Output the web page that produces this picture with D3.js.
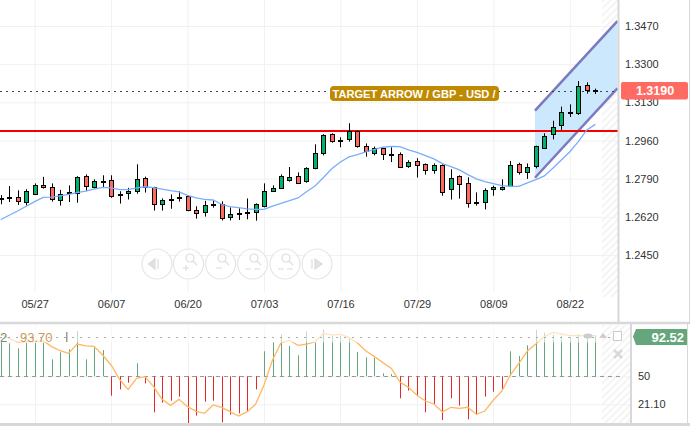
<!DOCTYPE html>
<html>
<head>
<meta charset="utf-8">
<script src="https://d3js.org/d3.v7.min.js"></script>
<style>
body {margin: 0; background: #fff;}
svg {display: block; font-family: "Liberation Sans", Arial, sans-serif;}
.axis .domain {display: none;}
.axis text {fill: #333; font-size: 11px;}
.axis line {stroke: #f1f1f1;}
</style>
</head>
<body>
<div id="vis"></div>
<script>
const FRAME_WIDTH = 695;
const FRAME_HEIGHT = 426;

// price pane
const OPENS = [1.2702,1.2707,1.2707,1.2685,1.2720,1.2760,1.2751,1.2692,1.2729,1.2726,1.2801,1.2754,1.2780,1.2783,1.2720,1.2725,1.2734,1.2792,1.2751,1.2676,1.2698,1.2707,1.2711,1.2649,1.2640,1.2677,1.2676,1.2618,1.2636,1.2640,1.2640,1.2665,1.2732,1.2749,1.2781,1.2801,1.2777,1.2836,1.2903,1.2988,1.2961,1.2965,1.3002,1.2934,1.2903,1.2925,1.2900,1.2898,1.2844,1.2867,1.2854,1.2827,1.2849,1.2743,1.2801,1.2769,1.2685,1.2685,1.2743,1.2747,1.2757,1.2854,1.2818,1.2845,1.2925,1.2988,1.3028,1.3081,1.3080,1.3206,1.3184];
const HIGHS = [1.2717,1.2757,1.2738,1.2743,1.2769,1.2798,1.2769,1.2740,1.2760,1.2801,1.2809,1.2787,1.2805,1.2805,1.2734,1.2749,1.2854,1.2799,1.2754,1.2702,1.2720,1.2734,1.2716,1.2667,1.2691,1.2692,1.2689,1.2662,1.2658,1.2702,1.2680,1.2769,1.2760,1.2809,1.2842,1.2818,1.2841,1.2943,1.2988,1.2992,1.2974,1.3037,1.3005,1.2947,1.2933,1.2930,1.2930,1.2907,1.2872,1.2881,1.2858,1.2858,1.2854,1.2832,1.2805,1.2796,1.2729,1.2747,1.2759,1.2787,1.2869,1.2861,1.2858,1.2937,1.2992,1.3048,1.3111,1.3121,1.3225,1.3219,1.3191];
const LOWS = [1.2676,1.2686,1.2673,1.2670,1.2717,1.2746,1.2688,1.2670,1.2686,1.2683,1.2734,1.2746,1.2753,1.2705,1.2679,1.2697,1.2723,1.2728,1.2648,1.2648,1.2656,1.2688,1.2645,1.2612,1.2621,1.2661,1.2604,1.2604,1.2606,1.2609,1.2603,1.2662,1.2732,1.2744,1.2777,1.2768,1.2772,1.2832,1.2894,1.2950,1.2930,1.2955,1.2928,1.2888,1.2894,1.2873,1.2864,1.2838,1.2838,1.2795,1.2808,1.2812,1.2714,1.2697,1.2701,1.2661,1.2670,1.2653,1.2714,1.2737,1.2753,1.2808,1.2789,1.2836,1.2922,1.2965,1.3007,1.3065,1.3074,1.3169,1.3167];
const CLOSES = [1.2697,1.2702,1.2689,1.2734,1.2760,1.2750,1.2697,1.2720,1.2725,1.2796,1.2756,1.2780,1.2777,1.2710,1.2716,1.2734,1.2787,1.2751,1.2676,1.2694,1.2695,1.2702,1.2649,1.2636,1.2671,1.2673,1.2612,1.2631,1.2630,1.2634,1.2676,1.2734,1.2747,1.2801,1.2796,1.2772,1.2836,1.2903,1.2983,1.2955,1.2956,1.3001,1.2934,1.2912,1.2925,1.2898,1.2897,1.2841,1.2863,1.2849,1.2827,1.2849,1.2729,1.2792,1.2765,1.2680,1.2682,1.2738,1.2751,1.2754,1.2849,1.2818,1.2841,1.2934,1.2980,1.3019,1.3086,1.3086,1.3201,1.3182,1.3181];
const AVERAGE = [1.2607,1.2627,1.2646,1.2667,1.2688,1.2707,1.2708,1.2713,1.2720,1.2728,1.2735,1.2743,1.2751,1.2749,1.2741,1.2741,1.2749,1.2754,1.2750,1.2743,1.2737,1.2731,1.2716,1.2704,1.2698,1.2695,1.2676,1.2665,1.2661,1.2655,1.2653,1.2653,1.2668,1.2680,1.2692,1.2704,1.2732,1.2757,1.2795,1.2835,1.2864,1.2887,1.2897,1.2909,1.2921,1.2930,1.2934,1.2933,1.2918,1.2907,1.2893,1.2878,1.2857,1.2844,1.2829,1.2808,1.2789,1.2777,1.2768,1.2759,1.2756,1.2756,1.2771,1.2786,1.2802,1.2836,1.2873,1.2910,1.2955,1.3007,1.3032];

const PRICE_TICKS = [1.3470, 1.3300, 1.3130, 1.2960, 1.2790, 1.2620, 1.2450];
const DATE_LABELS = ["05/27", "06/07", "06/20", "07/03", "07/16", "07/29", "08/09", "08/22"];
const DATE_INDEX = [4, 13, 22, 31, 40, 49, 58, 67];

// annotations
const RESISTANCE = 1.3002;
const CHANNEL_INDEX = [62.9, 72.6];
const CHANNEL_UPPER = [1.3093, 1.3492];
const CHANNEL_LOWER = [1.2794, 1.3192];

// oscillator pane
const OSC_BARS = [85.7,84.0,78.9,84.7,84.7,84.7,67.5,74.7,77.8,96.7,67.5,79.5,77.1,30.0,36.5,43.4,63.4,42.7,12.8,22.8,24.8,29.0,1.5,9.4,23.8,24.8,2.5,10.4,11.8,13.5,36.5,75.8,85.4,93.3,81.3,71.6,96.4,85.1,98.5,91.6,91.6,90.2,75.1,69.6,68.9,53.1,52.4,27.3,35.2,30.7,12.8,20.7,4.9,27.3,19.7,5.6,10.1,29.0,34.1,36.9,75.8,71.0,82.0,97.8,95.0,93.0,92.3,90.9,93.7,93.0,92.3];
const OSC_LINE = [93.7,89.2,85.1,85.7,85.7,86.8,80.6,76.4,73.7,83.3,81.3,80.9,72.0,61.7,46.9,36.5,47.9,49.6,39.3,26.2,20.0,26.2,18.7,13.8,11.8,20.4,18.0,13.5,9.0,13.2,21.1,41.0,66.8,84.7,87.1,82.0,83.3,85.4,94.3,92.6,93.3,90.2,84.4,76.1,70.3,64.1,58.2,44.1,38.6,30.4,24.5,21.4,13.1,18.0,16.9,18.0,10.7,14.2,25.5,34.8,51.3,63.4,76.1,83.3,90.9,95.4,93.7,91.9,91.9,91.9,91.9];
const OSC_TICKS = [50, 21.1];
const OSC_TOP = 91;

const GREEN = "#00b36b";
const RED = "#ff6a5e";
const INDEX = OPENS.map((d, i) => i);

const FRAME = d3.select("#vis")
	.append("svg")
		.attr("width", FRAME_WIDTH)
		.attr("height", FRAME_HEIGHT);

const X_SCALE = d3.scaleLinear().domain([0, 70]).range([0.67, 595.3]);
const Y_SCALE = d3.scaleLinear().domain([1.3470, 1.2450]).range([26, 255]);
const OSC_SCALE = d3.scaleLinear().domain([50, 21.1]).range([376.3, 404.3]);
const crisp = (v) => Math.round(v) + 0.5;

// hatch for the empty area right of the last candle
const HATCH = FRAME.append("defs").append("pattern")
	.attr("id", "hatch")
	.attr("width", 5)
	.attr("height", 5)
	.attr("patternUnits", "userSpaceOnUse")
	.attr("patternTransform", "rotate(-45)");
HATCH.append("line")
	.attr("x1", 0).attr("x2", 5).attr("y1", 2).attr("y2", 2)
	.attr("stroke", "#f0f0f0")
	.attr("stroke-width", 1.5);

FRAME.append("rect").attr("x", 602).attr("y", 0).attr("width", 16).attr("height", 297).attr("fill", "url(#hatch)");
FRAME.append("rect").attr("x", 602).attr("y", 325).attr("width", 28).attr("height", 98).attr("fill", "url(#hatch)");

// axes and grid
FRAME.append("g")
	.attr("class", "axis")
	.attr("transform", "translate(618,0)")
	.call(d3.axisRight(Y_SCALE).tickValues(PRICE_TICKS).tickSize(-618).tickPadding(7).tickFormat(d3.format(".4f")));

const DATE_AXIS = d3.axisBottom(X_SCALE)
	.tickValues(DATE_INDEX)
	.tickSize(-292)
	.tickPadding(8)
	.tickFormat((d, i) => DATE_LABELS[i]);
FRAME.append("g")
	.attr("class", "axis")
	.attr("transform", "translate(0,292)")
	.call(DATE_AXIS);

FRAME.append("g")
	.selectAll("line")
	.data(DATE_INDEX)
	.enter()
	.append("line")
		.attr("x1", (d) => crisp(X_SCALE(d)))
		.attr("x2", (d) => crisp(X_SCALE(d)))
		.attr("y1", 324)
		.attr("y2", 423)
		.attr("stroke", "#f1f1f1");

// channel
const CHANNEL_POINTS = [
	[CHANNEL_INDEX[0], CHANNEL_UPPER[0]],
	[CHANNEL_INDEX[1], CHANNEL_UPPER[1]],
	[CHANNEL_INDEX[1], CHANNEL_LOWER[1]],
	[CHANNEL_INDEX[0], CHANNEL_LOWER[0]]
];
FRAME.append("polygon")
	.attr("points", CHANNEL_POINTS.map((d) => X_SCALE(d[0]) + "," + Y_SCALE(d[1])).join(" "))
	.attr("fill", "#cbe8fd");
[CHANNEL_UPPER, CHANNEL_LOWER].forEach((band) => {
	FRAME.append("line")
		.attr("x1", X_SCALE(CHANNEL_INDEX[0]))
		.attr("x2", X_SCALE(CHANNEL_INDEX[1]))
		.attr("y1", Y_SCALE(band[0]))
		.attr("y2", Y_SCALE(band[1]))
		.attr("stroke", "#7c7abf")
		.attr("stroke-width", 2.5);
});

// last price line and resistance
FRAME.append("line")
	.attr("x1", 0)
	.attr("x2", 618)
	.attr("y1", crisp(Y_SCALE(CLOSES[70])))
	.attr("y2", crisp(Y_SCALE(CLOSES[70])))
	.attr("stroke", "#444")
	.attr("stroke-dasharray", "2,4");
FRAME.append("line")
	.attr("x1", 0)
	.attr("x2", 618)
	.attr("y1", Y_SCALE(RESISTANCE))
	.attr("y2", Y_SCALE(RESISTANCE))
	.attr("stroke", "#f40000")
	.attr("stroke-width", 2);

// candles
FRAME.append("g")
	.selectAll("line")
	.data(INDEX)
	.enter()
	.append("line")
		.attr("x1", (i) => crisp(X_SCALE(i)))
		.attr("x2", (i) => crisp(X_SCALE(i)))
		.attr("y1", (i) => Y_SCALE(HIGHS[i]))
		.attr("y2", (i) => Y_SCALE(LOWS[i]))
		.attr("stroke", "#000");

const candleFill = (i) => {
	if (Math.abs(CLOSES[i] - OPENS[i]) <= 0.0005) {return "#000";}
	return CLOSES[i] > OPENS[i] ? GREEN : RED;
};

FRAME.append("g")
	.selectAll("rect")
	.data(INDEX)
	.enter()
	.append("rect")
		.attr("x", (i) => crisp(X_SCALE(i)) - 2)
		.attr("width", 4)
		.attr("y", (i) => crisp(Y_SCALE(Math.max(OPENS[i], CLOSES[i]))))
		.attr("height", (i) => Math.max(1, Math.round(Y_SCALE(Math.min(OPENS[i], CLOSES[i])) - Y_SCALE(Math.max(OPENS[i], CLOSES[i])))))
		.attr("fill", candleFill)
		.attr("stroke", "#000");

// moving average
FRAME.append("path")
	.datum(AVERAGE)
	.attr("d", d3.line().x((d, i) => X_SCALE(i)).y((d) => Y_SCALE(d)))
	.attr("fill", "none")
	.attr("stroke", "#78aefc")
	.attr("stroke-width", 1.3);

// target label
FRAME.append("rect")
	.attr("x", 330).attr("y", 86).attr("width", 169).attr("height", 15)
	.attr("rx", 4)
	.attr("fill", "#bf8a00");
FRAME.append("text")
	.attr("x", 332.5).attr("y", 97.5)
	.attr("font-size", "11.5px")
	.attr("font-weight", "bold")
	.attr("fill", "#fff")
	.attr("textLength", 163)
	.attr("lengthAdjust", "spacingAndGlyphs")
	.text("TARGET ARROW / GBP - USD /");

// oscillator pane
FRAME.append("g")
	.attr("class", "axis")
	.attr("transform", "translate(631,0)")
	.call(d3.axisRight(OSC_SCALE).tickValues(OSC_TICKS).tickSize(-631).tickPadding(7).tickFormat((d) => d === 50 ? "50" : "21.10"));

FRAME.append("line")
	.attr("x1", 0).attr("x2", 621)
	.attr("y1", crisp(OSC_SCALE(50))).attr("y2", crisp(OSC_SCALE(50)))
	.attr("stroke", "#999")
	.attr("stroke-dasharray", "4,4");

FRAME.append("g")
	.selectAll("line")
	.data(OSC_BARS)
	.enter()
	.append("line")
		.attr("x1", (d, i) => crisp(X_SCALE(i)))
		.attr("x2", (d, i) => crisp(X_SCALE(i)))
		.attr("y1", OSC_SCALE(50))
		.attr("y2", (d) => OSC_SCALE(d))
		.attr("stroke", (d) => d >= 50 ? "#65a57c" : "#e2282d")
		.attr("stroke-width", 1);

FRAME.append("path")
	.datum(OSC_LINE)
	.attr("d", d3.line().x((d, i) => X_SCALE(i)).y((d) => OSC_SCALE(d)))
	.attr("fill", "none")
	.attr("stroke", "#ffb861")
	.attr("stroke-width", 1.3);

// white wash behind the pane legend
FRAME.append("rect")
	.attr("x", 0).attr("y", 324).attr("width", 600).attr("height", 18.5)
	.attr("fill", "#fff")
	.attr("opacity", 0.6);

FRAME.append("line")
	.attr("x1", 0).attr("x2", 621)
	.attr("y1", crisp(OSC_SCALE(OSC_TOP))).attr("y2", crisp(OSC_SCALE(OSC_TOP)))
	.attr("stroke", "#aaa")
	.attr("stroke-dasharray", "2,6");

FRAME.append("text").attr("x", 0).attr("y", 342).attr("font-size", "13px").attr("fill", "#6f8f7c").text("2");
FRAME.append("text").attr("x", 20).attr("y", 342).attr("font-size", "13px").attr("fill", "#c99b5e").text("93.70");
FRAME.append("rect").attr("x", 66).attr("y", 332).attr("width", 1.5).attr("height", 10).attr("fill", "#999");

// pane controls in the oscillator corner
FRAME.append("ellipse").attr("cx", 588).attr("cy", 336).attr("rx", 4.5).attr("ry", 2.5).attr("fill", "#ccc");
FRAME.append("path").attr("d", "M599,338 L603,333 L607,338 Z").attr("fill", "#ccc");
FRAME.append("rect").attr("x", 613.5).attr("y", 331.5).attr("width", 8).attr("height", 9).attr("fill", "#fff").attr("stroke", "#ccc");
FRAME.append("path").attr("d", "M614,350 L622,358 M622,350 L614,358").attr("stroke", "#d9d9d9").attr("stroke-width", 2.5);

// borders
const BORDER = "#d8d8d8";
[[618.5, 0, 618.5, 323, 2], [631, 323, 631, 424, 2], [0, 323, 690, 323, 2.5], [0, 424.5, 690, 424.5, 3], [689.5, 0, 689.5, 323, 1], [687.5, 323, 687.5, 424, 1]].forEach((b) => {
	FRAME.append("line")
		.attr("x1", b[0]).attr("y1", b[1])
		.attr("x2", b[2]).attr("y2", b[3])
		.attr("stroke", BORDER)
		.attr("stroke-width", b[4]);
});

// value tags on the axes
FRAME.append("rect")
	.attr("x", 621).attr("y", 82).attr("width", 67).attr("height", 17.5)
	.attr("rx", 2)
	.attr("fill", "#ff6b63");
FRAME.append("text")
	.attr("x", 655).attr("y", 95)
	.attr("text-anchor", "middle")
	.attr("font-size", "12.5px")
	.attr("font-weight", "bold")
	.attr("fill", "#fff")
	.text("1.3190");

FRAME.append("path")
	.attr("d", "M633,336.5 L636,329 L687,329 L687,345 L636,345 Z")
	.attr("fill", "#66a67c");
FRAME.append("text")
	.attr("x", 684).attr("y", 341.5)
	.attr("text-anchor", "end")
	.attr("font-size", "13px")
	.attr("font-weight", "bold")
	.attr("fill", "#fff")
	.text("92.52");

// zoom buttons under the chart
const BUTTON_X = [157, 188.5, 220.5, 252.5, 285, 317];
const BUTTONS = FRAME.append("g")
	.attr("fill", "none")
	.attr("stroke", "#e6e6e6")
	.attr("stroke-width", 1.2);
BUTTONS.selectAll("circle")
	.data(BUTTON_X)
	.enter()
	.append("circle")
		.attr("cx", (d) => d)
		.attr("cy", 264)
		.attr("r", 15)
		.attr("fill", "#fff")
		.attr("fill-opacity", 0.7);
const GLYPHS = [
	"M155,259 L148.5,264 L155,269 Z M158,259 V269",
	"M186,258 a4,4 0 1,0 8,0 a4,4 0 1,0 -8,0 M193,261 L197,265 M183,268 H189 M186,265 V271",
	"M218,258 a4,4 0 1,0 8,0 a4,4 0 1,0 -8,0 M225,261 L229,265 M216,268 H222",
	"M250,258 a4,4 0 1,0 8,0 a4,4 0 1,0 -8,0 M257,261 L261,265 M245,269 H251 M254,269 H260",
	"M282,258 a4,4 0 1,0 8,0 a4,4 0 1,0 -8,0 M289,261 L293,265 M278,269 H284 M287,269 H293",
	"M315,259 L322,264 L315,269 Z M312,259 V269"
];
BUTTONS.selectAll("path")
	.data(GLYPHS)
	.enter()
	.append("path")
		.attr("d", (d) => d)
		.attr("stroke", "#dcdcdc")
		.attr("fill", (d, i) => (i === 0 || i === 5) ? "#e2e2e2" : "none");
</script>
</body>
</html>
